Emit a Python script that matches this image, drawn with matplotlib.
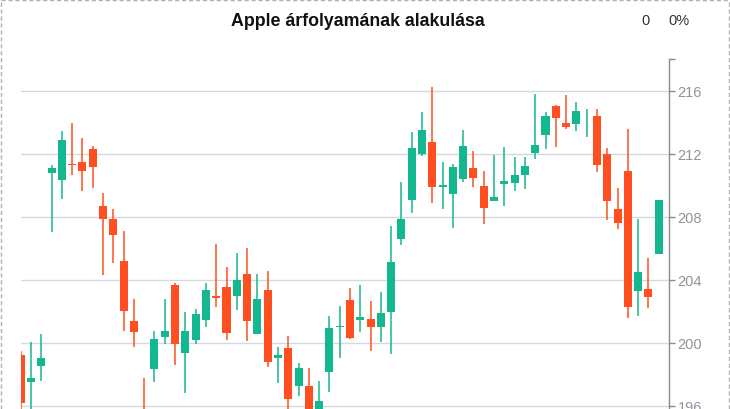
import matplotlib
matplotlib.use("Agg")
import matplotlib.pyplot as plt
from matplotlib.lines import Line2D
import numpy as np

# ---- data ----
opens = [199.22, 197.50, 198.54, 210.79, 210.35, 211.35, 211.47, 212.30, 208.68, 207.85,
         205.19, 201.38, 195.60, 198.35, 200.38, 203.66, 199.37, 200.19, 201.46, 202.97,
         203.53, 202.98, 204.36, 200.57, 203.34, 199.05, 199.66, 197.27, 197.25, 195.20,
         198.16, 201.00, 202.71, 201.46, 201.50, 201.01, 201.97, 206.60, 209.08, 212.00,
         212.74, 209.90, 209.46, 210.41, 211.09, 209.95, 209.02, 210.10, 210.16, 210.67,
         212.06, 213.21, 215.03, 213.95, 213.90, 214.00, 214.39, 211.98, 208.49, 210.90,
         203.30, 203.41, 205.65]
highs = [199.48, 200.04, 200.55, 211.28, 213.44, 213.95, 213.00, 212.49, 209.50, 208.49,
         207.09, 202.77, 197.76, 200.74, 202.77, 203.79, 201.95, 202.14, 203.79, 206.27,
         204.81, 205.70, 206.00, 204.36, 204.55, 199.73, 200.42, 198.70, 198.41, 197.57,
         201.71, 202.33, 203.47, 203.66, 202.65, 203.22, 207.41, 210.20, 213.38, 214.65,
         216.23, 211.47, 211.35, 213.50, 212.17, 210.90, 211.92, 212.43, 211.79, 211.79,
         215.79, 214.65, 215.09, 215.73, 215.28, 214.86, 214.84, 212.36, 209.84, 213.57,
         207.85, 205.38, 209.06]
lows = [195.50, 195.60, 197.59, 207.05, 209.14, 210.67, 209.65, 209.84, 204.32, 205.08,
        200.76, 199.75, 194.20, 197.52, 199.94, 198.60, 196.83, 199.94, 201.01, 202.29,
        200.19, 202.10, 200.13, 200.57, 198.48, 197.46, 195.30, 196.63, 194.60, 194.90,
        196.89, 199.05, 200.25, 200.70, 199.49, 200.06, 199.30, 206.22, 208.25, 211.87,
        208.89, 208.51, 207.30, 210.22, 209.90, 207.56, 209.02, 208.70, 209.65, 209.78,
        211.68, 212.32, 212.44, 213.59, 213.46, 213.06, 210.86, 207.81, 207.24, 201.59,
        201.71, 202.22, 205.65]
closes = [196.19, 197.76, 199.03, 211.09, 212.87, 211.30, 210.93, 211.17, 207.87, 206.86,
          202.03, 200.70, 194.60, 200.24, 200.74, 199.94, 200.74, 201.82, 203.34, 202.84,
          200.63, 203.98, 201.40, 202.77, 198.79, 199.22, 196.44, 198.41, 195.00, 196.30,
          200.93, 201.05, 200.32, 201.63, 201.01, 201.89, 205.12, 207.85, 212.36, 213.50,
          209.90, 210.03, 211.16, 212.49, 210.48, 208.57, 209.25, 210.27, 210.65, 211.22,
          212.55, 214.39, 214.29, 213.71, 214.71, 214.00, 211.30, 209.02, 207.62, 202.29,
          204.49, 202.92, 209.06]
y_ticks = [196, 200, 204, 208, 212, 216]
title = "Apple árfolyamának alakulása"

UP = "#13b890"
DOWN = "#ff4f21"

W, H = 730, 410
fig = plt.figure(figsize=(W / 100, H / 100), dpi=100)

# axes placed so that the plot continues below the picture edge
ymin, ymax = 194.0, 218.0
px_per_unit = 15.75
top_px = 60.3
bot_px = top_px + (ymax - ymin) * px_per_unit
left_px, right_px = 20.7, 669.3
ax = fig.add_axes([left_px / W, 1 - bot_px / H, (right_px - left_px) / W, (bot_px - top_px) / H])

o = np.array(opens); c = np.array(closes); hi = np.array(highs); lo = np.array(lows)
x = np.arange(len(o))
up = c >= o
cols = np.where(up, UP, DOWN)

for yt in y_ticks:
    ax.axhline(yt, color="#d5d8dc", lw=1.0, zorder=0)

ax.vlines(x, lo, hi, colors=cols, lw=1.1, zorder=2)
ax.bar(x, np.abs(c - o), bottom=np.minimum(o, c), width=0.78, color=cols, zorder=3, linewidth=0)

ax.set_xlim(0, 63.03)
ax.set_ylim(ymin, ymax)

for s in ["top", "left", "bottom"]:
    ax.spines[s].set_visible(False)
ax.spines["right"].set_color("#8a8a8a")
ax.spines["right"].set_linewidth(1.0)
ax.set_xticks([])
ax.yaxis.tick_right()
ax.set_yticks(y_ticks + [218])
ax.set_yticklabels([str(v) for v in y_ticks] + [""])
ax.tick_params(axis="y", direction="out", length=4, width=1, color="#8a8a8a",
               labelcolor="#8f949c", labelsize=10.5, pad=2)
for lab in ax.get_yticklabels():
    lab.set_family("Liberation Sans")

fig.text(357.5 / W, 1 - 21 / H, title, ha="center", va="center",
         fontsize=12.8, fontweight="bold", family="Liberation Sans", color="#111111")
fig.text(645 / W, 1 - 21 / H, "0", ha="center", va="center",
         fontsize=10.5, family="Liberation Sans", color="#333333")
fig.text(679 / W, 1 - 21 / H, "0%", ha="center", va="center",
         fontsize=10.5, family="Liberation Sans", color="#333333")

# dashed outer border
bc = "#b0b0b0"
for xs, ys in [([0.5 / W, 729 / W], [1 - 0.5 / H, 1 - 0.5 / H]),
               ([0.8 / W, 0.8 / W], [0, 1]),
               ([729 / W, 729 / W], [0, 1])]:
    fig.add_artist(Line2D(xs, ys, transform=fig.transFigure, color=bc, lw=1.0,
                          linestyle=(0, (3, 2))))

fig.savefig("out.png", dpi=100)
